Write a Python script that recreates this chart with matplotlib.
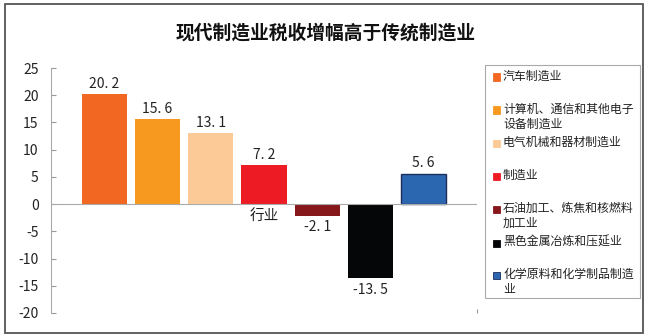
import numpy as np
import matplotlib
matplotlib.use("Agg")
import matplotlib.pyplot as plt
from matplotlib.patches import Rectangle

plt.rcParams['font.family'] = ['Noto Sans CJK SC', 'DejaVu Sans']
plt.rcParams['axes.unicode_minus'] = True

# 数据
industries = ["汽车制造业", "计算机、通信和其他电子\n设备制造业", "电气机械和器材制造业",
              "制造业", "石油加工、炼焦和核燃料\n加工业", "黑色金属冶炼和压延业",
              "化学原料和化学制品制造\n业"]
growth = [20.2, 15.6, 13.1, 7.2, -2.1, -13.5, 5.6]
colors = ["#F26722", "#F7991F", "#FCCA97", "#ED1C24", "#86171B", "#050608", "#2B66B0"]
edge_colors = ["none", "none", "none", "none", "none", "none", "#1C2E5A"]
yticks = [-20, -15, -10, -5, 0, 5, 10, 15, 20, 25]

fig = plt.figure(figsize=(6.5, 3.36), dpi=100)
W, H = 650, 336

# 外框
fig.patches.append(Rectangle((5 / W, 3 / H), 638 / W, 329 / H, transform=fig.transFigure,
                             fill=False, edgecolor="#555555", linewidth=1.3))

fig.text(326 / W, 1 - 33 / H, "现代制造业税收增幅高于传统制造业", ha="center", va="center",
         fontsize=13.5, fontweight="bold", color="#111111")

ax = fig.add_axes([51 / W, 1 - 313 / H, 426 / W, 245 / H])
x = np.arange(len(growth))
bars = ax.bar(x, growth, width=0.85, color=colors, edgecolor=edge_colors, linewidth=1)

for xi, v in zip(x, growth):
    txt = ("%.1f" % v).replace(".", ". ")
    if v >= 0:
        ax.text(xi, v + 0.6, txt, ha="center", va="bottom", fontsize=10, color="#222222")
    else:
        ax.text(xi, v - 0.9, txt, ha="center", va="top", fontsize=10, color="#222222")

# 残留的"行业"字样
ax.text(3, -2.1, "行业", ha="center", va="center", fontsize=10.5, color="#222222")

ax.set_xlim(-1, 7)
ax.set_ylim(-20, 25)
ax.set_yticks(yticks)
ax.set_yticklabels([str(t) for t in yticks], fontsize=10, color="#222222")
ax.set_xticks([7])
ax.set_xticklabels([""])
ax.tick_params(axis="y", direction="in", length=3.5, color="#999999", pad=9)
ax.tick_params(axis="x", direction="in", length=3, color="#999999")
for s in ["top", "right", "bottom"]:
    ax.spines[s].set_visible(False)
ax.spines["left"].set_color("#AAAAAA")
ax.spines["left"].set_linewidth(0.8)
ax.axhline(0, color="#AAAAAA", linewidth=0.8)
ax.set_facecolor("none")

# 图例
fig.patches.append(Rectangle((485 / W, 1 - 298 / H), 155 / W, 233 / H, transform=fig.transFigure,
                             fill=False, edgecolor="#AAAAAA", linewidth=0.8))
slot_y = [77, 110, 143, 176, 209, 243, 275]
for lab, c, ec, yy in zip(industries, colors, edge_colors, slot_y):
    fig.patches.append(Rectangle((493 / W, 1 - (yy + 3.5) / H), 7 / W, 7 / H,
                                 transform=fig.transFigure, facecolor=c,
                                 edgecolor=("#1C2E5A" if ec != "none" else c), linewidth=0.6))
    fig.text(503 / W, 1 - (yy - 7.5) / H, lab, ha="left", va="top", fontsize=8.6,
             color="#222222", linespacing=1.25)

fig.savefig("out.png", dpi=100)
